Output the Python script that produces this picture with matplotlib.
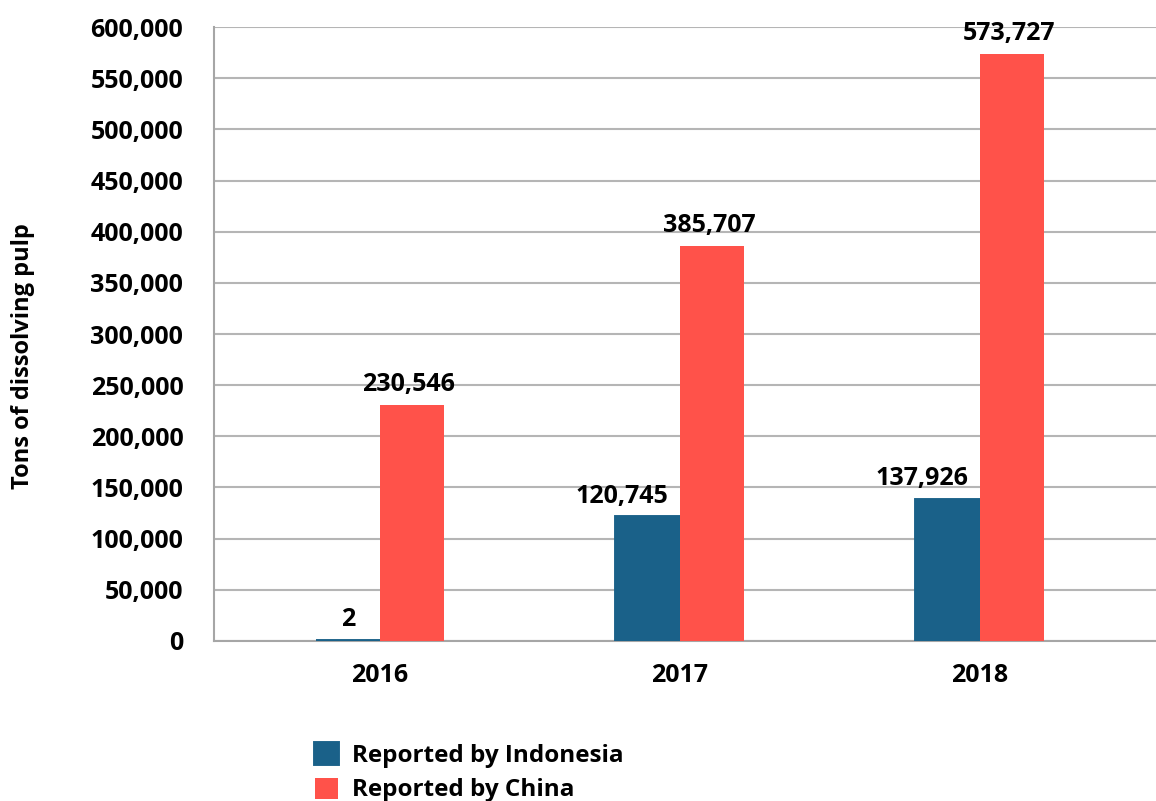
import matplotlib.pyplot as plt
import numpy as np
from matplotlib.ticker import FuncFormatter

years = ['2016', '2017', '2018']
indonesia = [2, 120745, 137926]
china = [230546, 385707, 573727]
series_names = ['Reported by Indonesia', 'Reported by China']

blue = '#1a6189'
red = '#ff524a'
grid_gray = '#b5b5b5'

plt.rcParams['font.family'] = ['Open Sans', 'DejaVu Sans']
plt.rcParams['font.weight'] = 'bold'

fig = plt.figure(figsize=(11.56, 8.01), dpi=100)
ax = fig.add_axes([0.185, 0.2, 0.815, 0.766])

x = np.arange(len(years))
w = 0.213
b1 = ax.bar(x - w/2, indonesia, w, color=blue, edgecolor=blue, linewidth=2.8,
            label=series_names[0], zorder=3)
b2 = ax.bar(x + w/2, china, w, color=red, label=series_names[1], zorder=3)

# value labels; long blue labels nudged left so they clear the red bar
blue_dx = [0, -19, -19]
for rect, v, dx in zip(b1, indonesia, blue_dx):
    ax.annotate(f'{v:,}', (rect.get_x() + rect.get_width()/2, v),
                xytext=(dx, 6), textcoords='offset points',
                ha='center', va='bottom', fontsize=18, fontweight='bold')
for rect, v in zip(b2, china):
    ax.annotate(f'{v:,}', (rect.get_x() + rect.get_width()/2, v),
                xytext=(-2, 6), textcoords='offset points',
                ha='center', va='bottom', fontsize=18, fontweight='bold')

ax.set_xlim(-0.553, 2.587)
ax.set_ylim(0, 600000)
ax.set_yticks(np.arange(0, 600001, 50000))
ax.yaxis.set_major_formatter(FuncFormatter(lambda v, p: f'{int(v):,}'))
ax.set_xticks(x)
ax.set_xticklabels(years)
ax.tick_params(axis='both', length=0, labelsize=18)
ax.tick_params(axis='y', pad=22)
ax.tick_params(axis='x', pad=16)
for lab in ax.get_xticklabels() + ax.get_yticklabels():
    lab.set_fontweight('bold')

ax.grid(axis='y', color=grid_gray, linewidth=1.5, zorder=0)
ax.set_axisbelow(True)
for s in ['top', 'right']:
    ax.spines[s].set_visible(False)
for s in ['left', 'bottom']:
    ax.spines[s].set_color('#a6a6a6')
    ax.spines[s].set_linewidth(1.5)

fig.text(0.02, 0.555, 'Tons of dissolving pulp', rotation=90, fontsize=17,
         fontweight='bold', ha='center', va='center')

fig.legend(handles=[b1, b2], loc='lower left', bbox_to_anchor=(0.264, -0.014),
           frameon=False, fontsize=17.5, handlelength=0.95, handleheight=0.95,
           handletextpad=0.58, labelspacing=0.4, borderaxespad=0.0)

fig.savefig('out.png', dpi=100)
